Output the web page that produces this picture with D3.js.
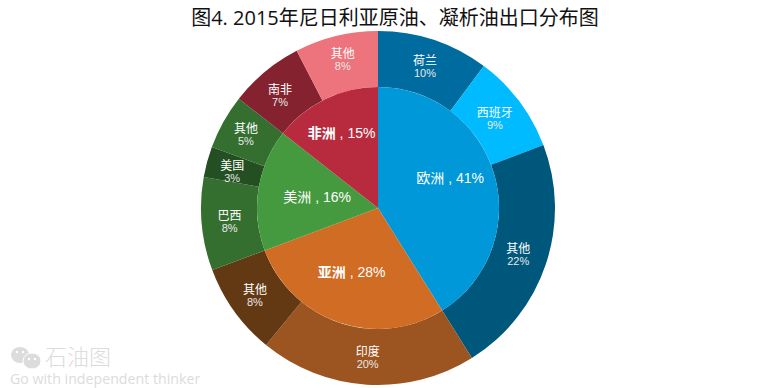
<!DOCTYPE html>
<head>
<meta charset="utf-8">
<style>
  body { margin: 0; background: #fff; }
  text { font-family: "Liberation Sans", "Noto Sans CJK SC", sans-serif; }
</style>
</head>

<body>
    <svg id="container" width="775" height="388"></svg>
</body>

<script src="https://d3js.org/d3.v7.min.js"></script>

<script>

let title = "图4. 2015年尼日利亚原油、凝析油出口分布图"

// inner ring: regions
let regionNames = ["欧洲", "亚洲", "美洲", "非洲"]
let regionValues = [41.1, 28.2, 16.3, 14.4]
let regionLabels = ["41%", "28%", "16%", "15%"]
let regionColors = ["#0098d8", "#d06c24", "#459a3f", "#b82b3e"]

// outer ring: countries
let countryNames = ["荷兰", "西班牙", "其他", "印度", "其他", "巴西", "美国", "其他", "南非", "其他"]
let countryValues = [10.2, 9.0, 21.9, 19.8, 8.4, 8.5, 2.8, 5.0, 6.8, 7.6]
let countryLabels = ["10%", "9%", "22%", "20%", "8%", "8%", "3%", "5%", "7%", "8%"]
let countryColors = ["#006b9f", "#00bbff", "#00577c", "#9c5420", "#633914", "#356f30", "#234f22", "#356f30", "#84232f", "#ed737c"]

let svg = d3.select("#container")

svg.append("text")
    .attr("x", 395)
    .attr("y", 25)
    .attr("text-anchor", "middle")
    .attr("font-size", 20)
    .attr("fill", "#111")
    .style("font-family", "'Open Sans', 'Noto Sans CJK SC', sans-serif")
    .text(title)

let chart = svg.append("g").attr("transform", "translate(378,208)")

let pie = d3.pie().sort(null).value(d => d)
let outerArc = d3.arc().innerRadius(121).outerRadius(177)
let innerArc = d3.arc().innerRadius(0).outerRadius(121)

chart.selectAll(".country")
    .data(pie(countryValues))
    .enter()
    .append("path")
    .attr("class", "country")
    .attr("d", outerArc)
    .attr("fill", (d, i) => countryColors[i])

chart.selectAll(".region")
    .data(pie(regionValues))
    .enter()
    .append("path")
    .attr("class", "region")
    .attr("d", innerArc)
    .attr("fill", (d, i) => regionColors[i])

// label nudges from the arc centroid, the original labels were moved by hand
let regionNudge = [[14, -13], [-7, 7], [-1, -2], [-10, -20]]
let countryNudge = [[0, 0], [-2, 1], [-1, -0.5], [-1, 1], [-2, 1], [0, 0], [-2, 3], [-2, 0], [-3, 3], [0, -3]]

let regionText = chart.selectAll(".regionLabel")
    .data(pie(regionValues))
    .enter()
    .append("text")
    .attr("class", "regionLabel")
    .attr("transform", (d, i) => {
        let c = innerArc.centroid(d)
        return `translate(${c[0] + regionNudge[i][0]},${c[1] + regionNudge[i][1]})`
    })
    .attr("text-anchor", "middle")
    .attr("dy", "0.35em")
    .attr("font-size", 14)
    .attr("fill", "#fff")
regionText.append("tspan")
    .attr("font-weight", (d, i) => (i == 1 || i == 3) ? "bold" : "normal")
    .text((d, i) => regionNames[i])
regionText.append("tspan").text((d, i) => " , " + regionLabels[i])

let countryText = chart.selectAll(".countryLabel")
    .data(pie(countryValues))
    .enter()
    .append("text")
    .attr("class", "countryLabel")
    .attr("transform", (d, i) => {
        let c = outerArc.centroid(d)
        return `translate(${c[0] + countryNudge[i][0]},${c[1] + countryNudge[i][1]})`
    })
    .attr("text-anchor", "middle")
    .attr("font-size", 11)
    .attr("fill", "#fff")
countryText.append("tspan").attr("x", 0).attr("y", -2).attr("font-size", 12).text((d, i) => countryNames[i])
countryText.append("tspan").attr("x", 0).attr("y", 10).attr("fill", "#e8e8e8").text((d, i) => countryLabels[i])

// watermark
let mark = svg.append("g").attr("fill", "#dcdcdc")
mark.append("ellipse").attr("cx", 20).attr("cy", 355).attr("rx", 9).attr("ry", 8)
mark.append("ellipse").attr("cx", 32).attr("cy", 361).attr("rx", 9).attr("ry", 8).attr("stroke", "#fff")
mark.selectAll(".eye")
    .data([[17, 352], [23, 352], [29, 359], [35, 359]])
    .enter()
    .append("circle")
    .attr("class", "eye")
    .attr("cx", d => d[0])
    .attr("cy", d => d[1])
    .attr("r", 1.2)
    .attr("fill", "#fff")
mark.append("text")
    .attr("x", 45)
    .attr("y", 365)
    .attr("font-size", 22)
    .attr("font-weight", 300)
    .style("font-family", "'Noto Sans CJK SC'")
    .text("石油图")
mark.append("text")
    .attr("x", 10)
    .attr("y", 384)
    .attr("font-size", 14.2)
    .style("font-family", "'Open Sans'")
    .text("Go with independent thinker")

</script>
